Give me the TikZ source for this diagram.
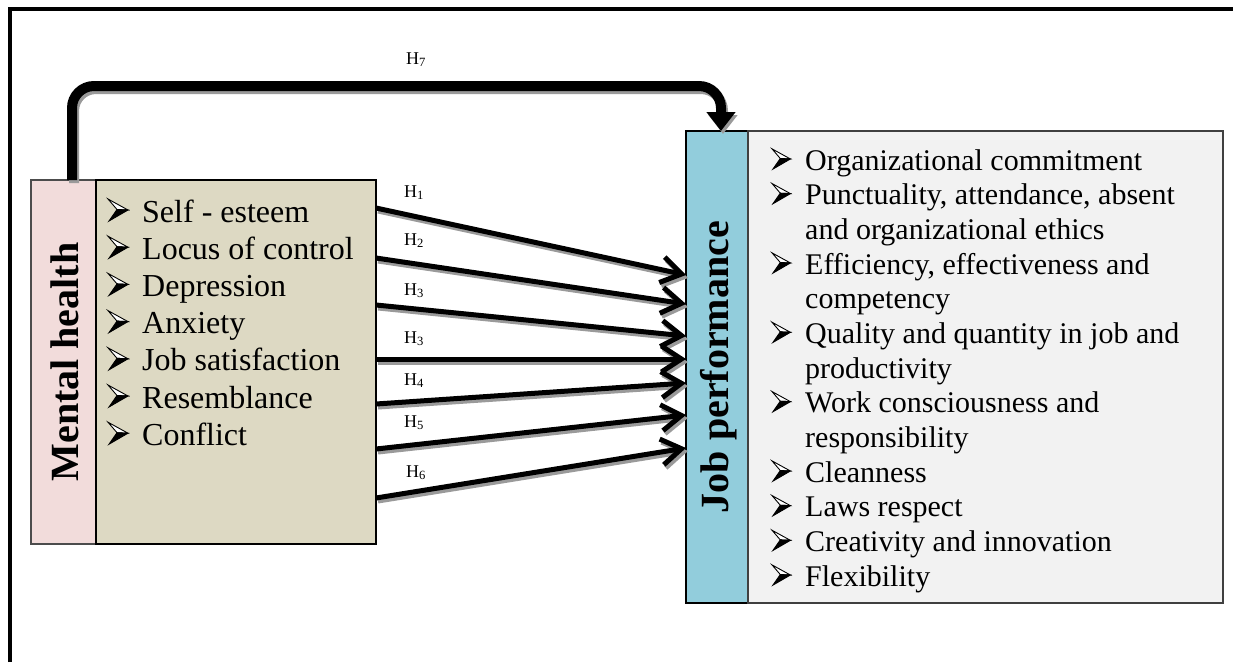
\documentclass[tikz,border=0pt]{standalone}
\usepackage{fontspec}
\setmainfont{Liberation Serif}
\usetikzlibrary{arrows.meta,calc}
\definecolor{pinkbox}{HTML}{F2DCDB}
\definecolor{beigebox}{HTML}{DDD9C3}
\definecolor{bluebox}{HTML}{92CDDC}
\definecolor{greybox}{HTML}{F2F2F2}
\definecolor{shadowgray}{HTML}{9A9A9A}
\tikzset{
  boxnode/.style={draw, line width=1.3pt, inner sep=0pt, outer sep=0pt, anchor=north west},
  hyp/.style={line width=5pt, -{Straight Barb[length=20pt,width=26pt,line width=5pt]}},
  bigarrow/.style={line width=10pt, rounded corners=22pt, -{Triangle[length=19pt,width=28pt]}},
  listL/.style={anchor=base west, inner sep=0pt, font=\fontsize{32}{37}\selectfont},
  listR/.style={anchor=base west, inner sep=0pt, font=\fontsize{30}{34}\selectfont},
  hlabel/.style={anchor=base west, inner sep=0pt, font=\fontsize{18}{18}\selectfont},
  titlelabel/.style={rotate=90, inner sep=0pt, font=\bfseries\fontsize{40}{40}\selectfont},
  arrowbullet/.pic={
    \draw[line width=0.9pt, line join=miter, fill=white] (0,-23) -- (20,-12) -- (9,-12.5) -- cycle;
    \fill[black] (9,-12.5) -- (20,-12) -- (1,-1) -- cycle;
    \draw[line width=0.9pt, line join=miter] (9,-12.5) -- (20,-12) -- (1,-1) -- cycle;
  }
}
\begin{document}
\begin{tikzpicture}[x=1pt,y=-1pt]
\useasboundingbox (0,0) rectangle (1233,662);
% outer frame (cut off at right and bottom)
\draw[line width=4pt] (10,662) -- (10,8.5) -- (1233,8.5);

% left boxes
\node[boxnode, draw=black!70, fill=pinkbox, minimum width=65pt, minimum height=364pt] (mh) at (31,180) {};
\node[boxnode, fill=beigebox, minimum width=280pt, minimum height=364pt] (bg) at (96,180) {};
\node[titlelabel] (mht) at ($(mh.center)+(1,0)$) {Mental health};

% right boxes
\node[boxnode, fill=bluebox, minimum width=62pt, minimum height=472pt] (jp) at (686,131) {};
\node[boxnode, draw=black!75, fill=greybox, minimum width=475pt, minimum height=472pt] (gb) at (748,131) {};
\node[titlelabel] (jpt) at ($(jp.center)+(2,0)$) {Job performance};

% left list
\foreach \t [count=\i] in {Self - esteem, Locus of control, Depression, Anxiety, Job satisfaction, Resemblance, Conflict}{
  \pic (bl\i) at (108,{222+37.2*(\i-1)}) {arrowbullet};
  \node[listL] (tl\i) at (142,{222+37.2*(\i-1)}) {\t};
}

% right list
\foreach \b/\t [count=\i] in {1/Organizational commitment, 1/{Punctuality, attendance, absent}, 0/and organizational ethics, 1/{Efficiency, effectiveness and}, 0/competency, 1/Quality and quantity in job and, 0/productivity, 1/Work consciousness and, 0/responsibility, 1/Cleanness, 1/Laws respect, 1/Creativity and innovation, 1/Flexibility}{
  \ifnum\b=1 \pic[scale=0.92] (br\i) at (772,{170+34.67*(\i-1)}) {arrowbullet};\fi
  \node[listR] (tr\i) at (805,{170+34.67*(\i-1)}) {\t};
}

% hypothesis arrows
\foreach \s/\e [count=\i] in {28/144, 78/173, 125/205, 179/228, 224/252, 269/284, 318/317}{
  \coordinate (s\i) at ($(bg.north east)+(0,\s)$);
  \coordinate (e\i) at ($(jp.north west)+(0,\e)$);
}
\begin{scope}[transform canvas={shift={(2,3)}}]
\foreach \i in {1,...,7}{
  \draw[hyp, draw=shadowgray] (s\i) -- (e\i);
}
\end{scope}
\foreach \i in {1,...,7}{
  \draw[hyp] (s\i) -- (e\i);
}

% H7 arrow
\coordinate (h7s) at ($(mh.north west)+(41,0)$);
\coordinate (h7e) at ($(jp.north west)+(35,0)$);
\begin{scope}[transform canvas={shift={(2,3)}}]
\draw[bigarrow, draw=shadowgray] (h7s) -- (h7s |- 0,86) -- (h7e |- 0,86) -- (h7e);
\end{scope}
\draw[bigarrow] (h7s) -- (h7s |- 0,86) -- (h7e |- 0,86) -- (h7e);

% labels
\node[hlabel] (H7) at (406,64) {H\textsubscript{7}};
\node[hlabel] (H1) at (404,197) {H\textsubscript{1}};
\node[hlabel] (H2) at (404,245) {H\textsubscript{2}};
\node[hlabel] (H3a) at (404,295) {H\textsubscript{3}};
\node[hlabel] (H3b) at (404,343) {H\textsubscript{3}};
\node[hlabel] (H4) at (404,385) {H\textsubscript{4}};
\node[hlabel] (H5) at (404,427) {H\textsubscript{5}};
\node[hlabel] (H6) at (406,477) {H\textsubscript{6}};
\end{tikzpicture}
\end{document}
